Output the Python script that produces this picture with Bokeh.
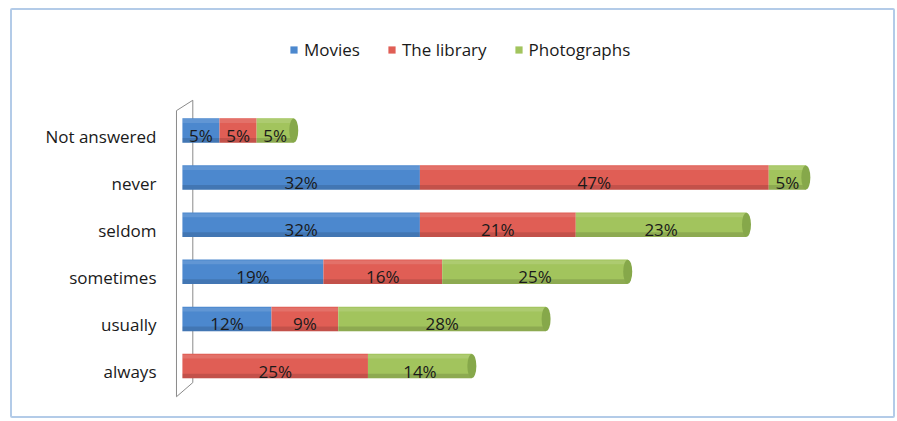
from bokeh.plotting import figure
from bokeh.models import ColumnDataSource, Range1d, FixedTicker, Legend, LegendItem
from bokeh.core.properties import value
from bokeh.embed import file_html
from bokeh.resources import INLINE

cats = ["Not answered", "never", "seldom", "sometimes", "usually", "always"]
series = ["Movies", "The library", "Photographs"]
movies = [5, 32, 32, 19, 12, 0]
library = [5, 47, 21, 16, 9, 25]
photos = [5, 5, 23, 25, 28, 14]
colors = ["#4C88CE", "#E05E55", "#A2C45D"]
cap_color = "#86A84A"

n = len(cats)
ypos = [n - 1 - i for i in range(n)]
FONT = "Open Sans"

p = figure(width=885, height=410, output_backend="svg", toolbar_location=None,
           x_range=Range1d(-1.2, 95), y_range=Range1d(-0.942, 7.12),
           min_border_left=161, min_border_right=10, min_border_top=20, min_border_bottom=10)
p.margin = (8, 0, 0, 10)
p.outline_line_color = None
p.grid.visible = False
p.xaxis.visible = False
p.background_fill_color = "white"
p.border_fill_color = "white"
p.styles = {"border": "2px solid #B3CBE8", "border-radius": "2px"}

# 3D wall decoration
top = n - 1 + 0.42
bot = -0.65
p.patch([-0.8, 1.4, 1.4, -0.8], [top, top + 0.22, bot + 0.3, bot],
        fill_color=None, line_color="#8A8A8A", line_width=1)

data_series = [movies, library, photos]
left = [0] * n
renderers = []
h = 0.52
for name, vals, col in zip(series, data_series, colors):
    right = [l + v for l, v in zip(left, vals)]
    src = ColumnDataSource(dict(y=ypos, left=left, right=right,
                                ylow=[y - 0.21 for y in ypos],
                                yhigh=[y + 0.2 for y in ypos],
                                mid=[(l + r) / 2 for l, r in zip(left, right)],
                                lab=[f"{v}%" if v > 0 else "" for v in vals]))
    r = p.hbar(y="y", left="left", right="right", height=h, source=src,
               fill_color=col, line_color=None)
    # cylinder shading
    p.hbar(y="ylow", left="left", right="right", height=0.1, source=src,
           fill_color="black", fill_alpha=0.13, line_color=None)
    p.hbar(y="yhigh", left="left", right="right", height=0.08, source=src,
           fill_color="white", fill_alpha=0.12, line_color=None)
    p.text(x="mid", y="y", text="lab", source=src, text_align="center",
           text_baseline="middle", text_font=value(FONT), text_font_size="17px",
           text_color="#1A1A1A", y_offset=5)
    renderers.append(r)
    left = right

# cylinder end caps
totals = left
p.ellipse(x=totals, y=ypos, width=9, height=24, width_units="screen", height_units="screen",
          fill_color=cap_color, line_color=None)

# category labels sit slightly below the bar centres
label_shift = 0.125
tick_pos = [y - label_shift for y in ypos]
ax = p.yaxis[0]
ax.ticker = FixedTicker(ticks=tick_pos)
ax.major_label_overrides = {t: c for t, c in zip(tick_pos, cats)}
ax.axis_line_color = None
ax.major_tick_line_color = None
ax.minor_tick_line_color = None
ax.major_label_standoff = 11
ax.major_label_text_font = FONT
ax.major_label_text_font_size = "17px"
ax.major_label_text_color = "#1A1A1A"

legend = Legend(items=[LegendItem(label=s, renderers=[r]) for s, r in zip(series, renderers)],
                orientation="horizontal", location=(116, 349), padding=0, margin=0,
                border_line_color=None, background_fill_alpha=0,
                glyph_width=9, glyph_height=9, label_height=20, label_standoff=6, spacing=27,
                label_text_font=FONT, label_text_font_size="17px", label_text_color="#1A1A1A")
p.add_layout(legend, "center")

open("out.html", "w").write(file_html(p, INLINE))
